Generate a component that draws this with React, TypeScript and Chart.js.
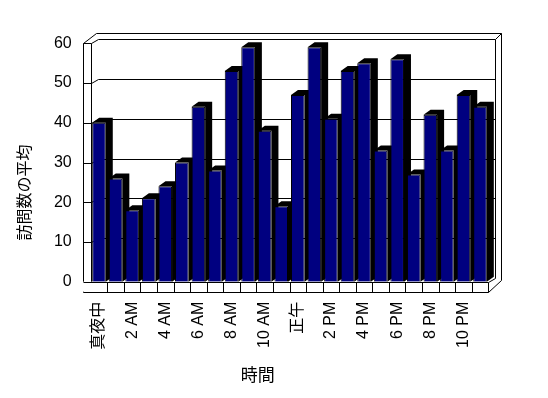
import React, { useEffect, useRef } from "react";
import { Chart, registerables } from "chart.js";

Chart.register(...registerables);

const hours = [
  "真夜中", "1 AM", "2 AM", "3 AM", "4 AM", "5 AM", "6 AM", "7 AM", "8 AM", "9 AM", "10 AM", "11 AM",
  "正午", "1 PM", "2 PM", "3 PM", "4 PM", "5 PM", "6 PM", "7 PM", "8 PM", "9 PM", "10 PM", "11 PM",
];
const visits = [40, 26, 18, 21, 24, 30, 44, 28, 53, 59, 38, 19, 47, 59, 41, 53, 55, 33, 56, 27, 42, 33, 47, 44];
const yTicks = [0, 10, 20, 30, 40, 50, 60];
const yTitle = "訪問数の平均";
const xTitle = "時間";

const FONT = '"Liberation Sans", "Noto Sans CJK JP", Arial, sans-serif';
const BAR_COLOR = "#000080";
const DEPTH_X = 7;
const DEPTH_Y = -5;
const BACK_X = 7;
const BACK_Y = -4;

function px(v: number) {
  return Math.round(v) + 0.5;
}

const boxPlugin = {
  id: "box3d",
  beforeDatasetsDraw(chart: any) {
    const { ctx, chartArea: ca, scales } = chart;
    const y = scales.y;
    const L = ca.left, R = ca.right, T = ca.top, B = ca.bottom;
    const wl = L - 8; // left wall outer edge
    const fb = B + 10; // floor bottom
    const ln = (x1: number, y1: number, x2: number, y2: number) => {
      ctx.beginPath();
      ctx.moveTo(px(x1), px(y1));
      ctx.lineTo(px(x2), px(y2));
      ctx.stroke();
    };
    ctx.save();
    ctx.strokeStyle = "#000";
    ctx.lineWidth = 1;

    const oTop = T + BACK_Y - 6;
    const oRight = R + BACK_X + 6;
    ln(wl + 13, oTop, oRight, oTop);
    ln(oRight, oTop, oRight, fb - 12);
    ln(wl, T, wl + 13, oTop);
    ln(L + BACK_X, T + BACK_Y, R + BACK_X, T + BACK_Y);
    ln(R + BACK_X, T + BACK_Y, R + BACK_X, B + BACK_Y);
    ln(R + BACK_X, T + BACK_Y, oRight, oTop);

    yTicks.forEach((v) => {
      const yy = y.getPixelForValue(v);
      if (v !== 0 && v !== yTicks[yTicks.length - 1]) {
        ln(L + BACK_X, yy + BACK_Y, R + BACK_X, yy + BACK_Y);
        ln(L, yy, L + BACK_X, yy + BACK_Y);
      }
      ln(wl, yy, L, yy);
    });

    ln(wl, T, wl, fb);
    ln(L, T, L, B);
    ln(L, T, L + BACK_X, T + BACK_Y);

    ctx.fillStyle = "#fff";
    ctx.fillRect(wl, B, R - wl, fb - B);
    ln(wl, B, R, B);
    ln(wl, fb, R, fb);
    ln(R, B, R, fb);
    const n = hours.length;
    for (let k = 1; k < n; k++) {
      const xk = L + (k * (R - L)) / n;
      ln(xk, B, xk, fb);
    }
    ln(R, fb, R + 13, fb - 12);
    ln(R, B, R + BACK_X, B + BACK_Y);

    const meta = chart.getDatasetMeta(0);
    ctx.fillStyle = "#000";
    meta.data.forEach((bar: any) => {
      const { x, y: top, base, width } = bar.getProps(["x", "y", "base", "width"], true);
      const x0 = x - width / 2;
      const x1 = x + width / 2;
      ctx.beginPath();
      ctx.moveTo(x0, top);
      ctx.lineTo(x0 + DEPTH_X, top + DEPTH_Y);
      ctx.lineTo(x1 + DEPTH_X, top + DEPTH_Y);
      ctx.lineTo(x1 + DEPTH_X, base + DEPTH_Y);
      ctx.lineTo(x1, base);
      ctx.lineTo(x1, top);
      ctx.closePath();
      ctx.fill();
    });
    ctx.restore();
  },
  afterDraw(chart: any) {
    const { ctx, chartArea: ca } = chart;
    ctx.save();
    ctx.fillStyle = "#000";
    ctx.textAlign = "center";
    ctx.textBaseline = "middle";
    ctx.font = `16px ${FONT}`;
    ctx.translate(ca.left - 65, (ca.top + ca.bottom) / 2 + 30);
    ctx.rotate(-Math.PI / 2);
    ctx.fillText(yTitle, 0, 0);
    ctx.restore();
    ctx.save();
    ctx.fillStyle = "#000";
    ctx.textAlign = "center";
    ctx.textBaseline = "middle";
    ctx.font = `17px ${FONT}`;
    ctx.fillText(xTitle, ca.left + 167, ca.bottom + 95);
    ctx.restore();
  },
};

export default function App() {
  const ref = useRef<HTMLCanvasElement>(null);
  useEffect(() => {
    if (!ref.current) return;
    Chart.defaults.color = "#000";
    const chart = new Chart(ref.current, {
      type: "bar",
      data: {
        labels: hours,
        datasets: [
          {
            data: visits,
            backgroundColor: BAR_COLOR,
            borderColor: "#000",
            borderWidth: 1,
            barPercentage: 0.82,
            categoryPercentage: 1,
          },
        ],
      },
      options: {
        responsive: false,
        animation: false,
        devicePixelRatio: 1,
        layout: { padding: { left: 0, right: 59.7, top: 43.3, bottom: 0 } },
        plugins: { legend: { display: false }, tooltip: { enabled: false } },
        scales: {
          x: {
            grid: { display: false, drawTicks: false },
            border: { display: false },
            ticks: {
              autoSkip: false,
              minRotation: 90,
              maxRotation: 90,
              padding: 20,
              font: { family: FONT, size: 16 },
              color: "#000",
              callback: (_v: any, i: number) => (i % 2 === 0 ? hours[i] : ""),
            },
            afterFit: (s: any) => {
              s.height = 116.3;
            },
          },
          y: {
            min: 0,
            max: 60,
            grid: { display: false, drawTicks: false },
            border: { display: false },
            ticks: {
              stepSize: 10,
              padding: 19,
              font: { family: FONT, size: 16 },
              color: "#000",
            },
            afterFit: (s: any) => {
              s.width = 90.7;
            },
          },
        },
      },
      plugins: [boxPlugin],
    });
    return () => chart.destroy();
  }, []);
  return (
    <div style={{ position: "fixed", left: 0, top: 0, width: 548, height: 398, background: "#fff" }}>
      <canvas ref={ref} width={548} height={398} style={{ width: 548, height: 398, display: "block" }} />
    </div>
  );
}
